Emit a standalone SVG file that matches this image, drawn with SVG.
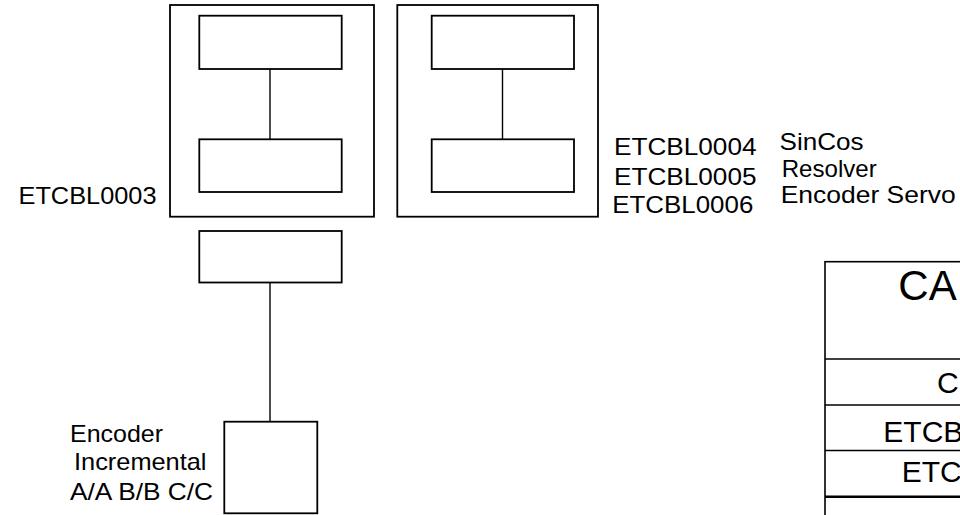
<svg xmlns="http://www.w3.org/2000/svg" width="960" height="515" viewBox="0 0 960 515">
<style>
.box{fill:#fff;stroke:#000;stroke-width:1.8}
.ln{stroke:#000;stroke-width:1.4;fill:none}
.t{font-family:"Liberation Sans",Arial,sans-serif;font-size:24px;fill:#000}
.tb{font-family:"Liberation Sans",Arial,sans-serif;font-size:30px;fill:#000}
</style>
<rect width="960" height="515" fill="#fff"/>
<g id="group-left">
<rect class="box" x="170" y="5" width="204" height="211.7"/>
<rect class="box" x="199.3" y="15.7" width="142.4" height="53.3"/>
<rect class="box" x="199.3" y="139.3" width="142.4" height="52.7"/>
</g>
<g id="group-right">
<rect class="box" x="397.3" y="5" width="200.7" height="211.7"/>
<rect class="box" x="431.7" y="15.7" width="142.3" height="53.3"/>
<rect class="box" x="431.7" y="139.3" width="142.3" height="52.7"/>
</g>
<g id="connector-box">
<rect class="box" x="199.3" y="231" width="142.4" height="51.5"/>
</g>
<g id="encoder">
<rect class="box" x="224.3" y="421.7" width="93" height="91.6"/>
</g>
<g id="connectors">
<line class="ln" x1="270" y1="69" x2="270" y2="139.3"/>
<line class="ln" x1="502.5" y1="69" x2="502.5" y2="139.3"/>
<line class="ln" x1="270" y1="282.5" x2="270" y2="421.7"/>
</g>
<g id="labels">
<text class="t" x="18.5" y="204" textLength="138" lengthAdjust="spacingAndGlyphs">ETCBL0003</text>
<text class="t" x="70" y="441.7" textLength="93" lengthAdjust="spacingAndGlyphs">Encoder</text>
<text class="t" x="74" y="470" textLength="132.5" lengthAdjust="spacingAndGlyphs">Incremental</text>
<text class="t" x="70" y="500" textLength="143" lengthAdjust="spacingAndGlyphs">A/A B/B C/C</text>
<text class="t" x="614" y="155" textLength="142.5" lengthAdjust="spacingAndGlyphs">ETCBL0004</text>
<text class="t" x="614" y="185" textLength="142.5" lengthAdjust="spacingAndGlyphs">ETCBL0005</text>
<text class="t" x="612.3" y="213.3" textLength="141" lengthAdjust="spacingAndGlyphs">ETCBL0006</text>
<text class="t" x="779.5" y="150" textLength="84" lengthAdjust="spacingAndGlyphs">SinCos</text>
<text class="t" x="781.7" y="176.7" textLength="95" lengthAdjust="spacingAndGlyphs">Resolver</text>
<text class="t" x="780.7" y="203.3" textLength="175" lengthAdjust="spacingAndGlyphs">Encoder Servo</text>
</g>
<g id="table">
<rect x="825" y="261.7" width="200" height="300" fill="#fff" stroke="#000" stroke-width="1.6"/>
<line class="ln" x1="825" y1="359" x2="1000" y2="359" stroke-width="1.6"/>
<line class="ln" x1="825" y1="405" x2="1000" y2="405" stroke-width="1.6"/>
<line class="ln" x1="825" y1="450.5" x2="1000" y2="450.5" stroke-width="1.6"/>
<line x1="825" y1="496.7" x2="1000" y2="496.7" stroke="#000" stroke-width="2.4"/>
<text class="tb" x="898.3" y="299.5" style="font-size:42px">CA</text>
<text class="tb" x="937" y="392.5">C</text>
<text class="tb" x="883.3" y="441.5">ETCB</text>
<text class="tb" x="901.7" y="482">ETC</text>
</g>
</svg>
